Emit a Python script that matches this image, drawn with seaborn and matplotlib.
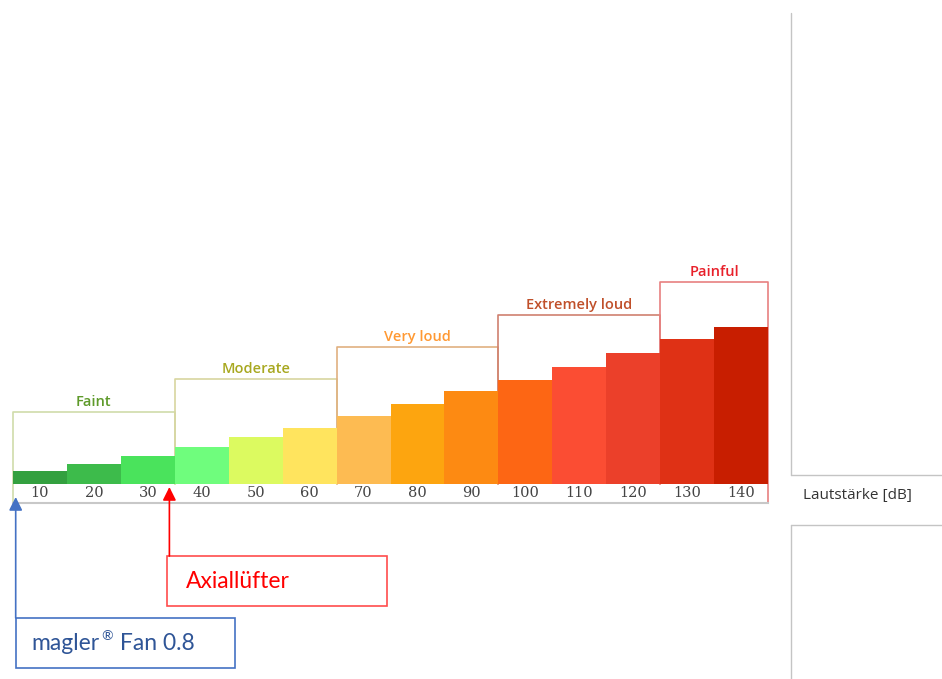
import matplotlib.pyplot as plt
import matplotlib.lines as mlines
import matplotlib.patches as mpatches
import pandas as pd
import seaborn as sns

# loudness levels and the (illustrative) bar heights
levels = ["10", "20", "30", "40", "50", "60", "70", "80", "90", "100", "110", "120", "130", "140"]
heights = [13, 20, 28, 37, 47, 56, 68, 80, 93, 104, 117, 131, 145, 157]
bar_colors = ["#33a03f", "#3dbb4b", "#4ae35c", "#6ffd7d", "#dcfa60", "#ffe45e", "#fdbb52",
              "#fda50f", "#fd8a12", "#fd6614", "#fb4d33", "#eb402a", "#df3115", "#c81e00"]

# category brackets over the bars
groups = ["Faint", "Moderate", "Very loud", "Extremely loud", "Painful"]
group_sizes = [3, 3, 3, 3, 2]
group_tops = [72, 105, 137, 169, 202]
group_text_colors = ["#5e9a2a", "#a8a820", "#ff9933", "#c0502a", "#e8202a"]
group_line_colors = ["#cfdcaa", "#d8d6a0", "#e0b080", "#d08070", "#e88080"]

# marked devices (dB)
device_names = ["magler", "Axiallüfter"]
device_marks = ["®", ""]
device_models = [" Fan 0.8", ""]
device_db = [5.5, 34]
device_text_colors = ["#2f5597", "#ff0000"]
device_line_colors = ["#4472c4", "#ff0000"]
device_box_colors = ["#4472c4", "#ff4d4d"]

sns.set_style("white")
plt.rcParams["font.family"] = ["Lato", "DejaVu Sans"]

df = pd.DataFrame({"level": levels, "height": heights})

fig = plt.figure(figsize=(9.42, 6.79), dpi=100)
ax = fig.add_axes([13 / 942, 1 - 503 / 679, 755 / 942, 269 / 679])

sns.barplot(data=df, x="level", y="height", hue="level", palette=bar_colors, legend=False,
            width=1, saturation=1, linewidth=0, ax=ax, zorder=3)

ax.set_xlim(-0.5, len(levels) - 0.5)
ax.set_ylim(-19, 250)
ax.set_xlabel("")
ax.set_ylabel("")
ax.set_yticks([])
for s in ["left", "right", "top"]:
    ax.spines[s].set_visible(False)
ax.spines["bottom"].set_color("#c8c8c8")
ax.spines["bottom"].set_linewidth(1.5)
ax.tick_params(axis="x", length=0, pad=-12.5, labelsize=10.5, labelcolor="#444444")
for lab in ax.get_xticklabels():
    lab.set_fontfamily("DejaVu Serif")

# brackets
start = 0
for i, (name, n, top) in enumerate(zip(groups, group_sizes, group_tops)):
    x0 = start - 0.5
    x1 = start + n - 0.5
    y0 = -19 if i == 0 else 0
    y1 = -19 if i == len(groups) - 1 else 0
    ax.plot([x0, x0, x1, x1], [y0, top, top, y1], color=group_line_colors[i], lw=1.2,
            zorder=2, clip_on=False)
    ax.text((x0 + x1) / 2, top + 10, name, ha="center", va="center", fontsize=10.5,
            fontweight="semibold", color=group_text_colors[i], family=["Open Sans", "DejaVu Sans"])
    start += n

# device markers
tips = [-13, -3]
box_tops = [-134, -72]
box_w = [4.06, 4.08]
box_shift = [0, -0.04]
for i, db in enumerate(device_db):
    x = (db - 10) / 10
    bt = box_tops[i]
    ax.annotate("", xy=(x, tips[i]), xytext=(x, bt),
                arrowprops=dict(arrowstyle="-|>", color=device_line_colors[i], lw=1.2,
                                mutation_scale=20, shrinkA=0, shrinkB=0),
                annotation_clip=False)
    ax.add_patch(mpatches.Rectangle((x + box_shift[i], bt - 50), box_w[i], 50, fill=False,
                                    edgecolor=device_box_colors[i], lw=1.2, clip_on=False))
    t1 = ax.text(x + 0.3, bt - 25, device_names[i], ha="left", va="center", fontsize=16.5,
                 color=device_text_colors[i])
    if device_marks[i]:
        t2 = ax.annotate(device_marks[i], xy=(1, 1), xycoords=t1, xytext=(1, 2),
                         textcoords="offset points", ha="left", va="top", fontsize=10,
                         color=device_text_colors[i])
        ax.annotate(device_models[i], xy=(1, 0), xycoords=(t2, t1), xytext=(1, 0),
                    textcoords="offset points", ha="left", va="bottom", fontsize=16.5,
                    color=device_text_colors[i])

# frame pieces of the surrounding chart area
line_c = "#c4c4c4"
fig.add_artist(mlines.Line2D([791 / 942, 791 / 942], [1 - 13 / 679, 1 - 475 / 679], color=line_c, lw=1))
fig.add_artist(mlines.Line2D([791 / 942, 1], [1 - 475 / 679, 1 - 475 / 679], color=line_c, lw=1))
fig.add_artist(mlines.Line2D([791 / 942, 1], [1 - 525 / 679, 1 - 525 / 679], color=line_c, lw=1))
fig.add_artist(mlines.Line2D([791 / 942, 791 / 942], [1 - 525 / 679, 0], color=line_c, lw=1))
fig.text(803 / 942, 1 - 495 / 679, "Lautstärke [dB]", ha="left", va="center", fontsize=11,
         color="#333333", family=["Open Sans", "DejaVu Sans"])

fig.savefig("out.png", dpi=100)
